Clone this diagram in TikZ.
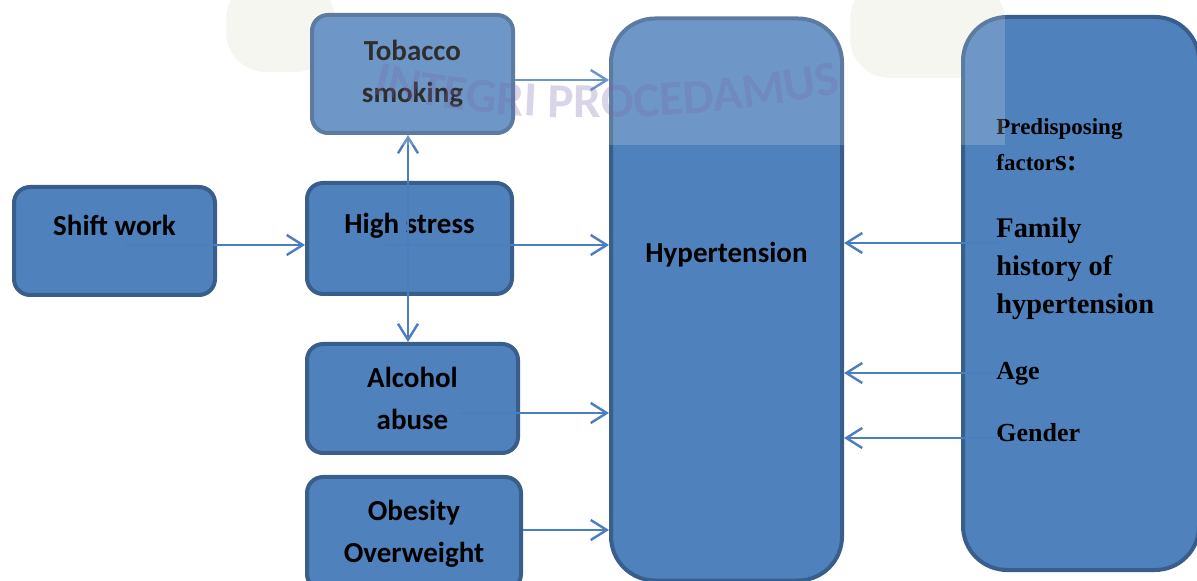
\documentclass[tikz,border=0pt]{standalone}
\usepackage{fontspec}
\usepackage{tikz}
\usetikzlibrary{arrows.meta,decorations.text}
\setmainfont{Liberation Serif}
\newfontfamily\calfont{Carlito}
\definecolor{boxfill}{RGB}{79,129,189}
\definecolor{boxedge}{RGB}{58,94,140}
\definecolor{linkc}{RGB}{74,126,190}
\definecolor{wmark}{RGB}{120,105,170}
\definecolor{wband}{RGB}{222,218,198}

\begin{document}
\begin{tikzpicture}[x=0.5pt,y=-0.5pt,
   box/.style={draw=boxedge,fill=boxfill,line width=2pt,rounded corners=8pt,inner sep=0pt,
     align=center,font=\calfont\bfseries\fontsize{14.5}{21}\selectfont},
   bigbox/.style={box,rounded corners=22pt},
   link/.style={draw=linkc,line width=1.2pt,-{Straight Barb[length=8pt,width=10pt,line width=1.2pt]}},
   fact/.style={anchor=north west,inner sep=0pt,align=left,font=\bfseries}]
   \useasboundingbox (0,0) rectangle (1197,581);

   % faint logo behind
   \fill[wband, opacity=.3, rounded corners=20pt] (226,-20) rectangle (335,72);
   \fill[wband, opacity=.3, rounded corners=20pt] (850,-20) rectangle (1005,78);

   % boxes
   \node[box, minimum width=100.5pt, minimum height=54pt, text height=11pt, text depth=16.5pt]
     (shift) at (114.5,241) {Shift work};
   \node[box, minimum width=102.5pt, minimum height=55.5pt, text height=11pt, text depth=16pt]
     (stress) at (409.5,238.5) {High stress};
   \node[box, minimum width=100.5pt, minimum height=59pt] (tobacco) at (412.5,74) {Tobacco\\smoking};
   \node[box, minimum width=105.5pt, minimum height=54.5pt] (alcohol) at (412.5,398.5) {Alcohol\\abuse};
   \node[box, minimum width=107pt, minimum height=56.5pt] (obesity) at (414,533.5) {Obesity\\Overweight};
   \node[bigbox, minimum width=115.5pt, minimum height=281pt, text height=11pt, text depth=47.5pt]
     (hyp) at (726.5,299.5) {Hypertension};
   \node[bigbox, minimum width=118pt, minimum height=276.5pt] (factors) at (1081,293.5) {};

   % predisposing factors
   \node[fact, font=\bfseries\fontsize{11.5}{18}\selectfont] (pred) at (996,118)
     {Predisposing\\factor{\fontsize{15}{18}\selectfont s:}};
   \node[fact, font=\bfseries\fontsize{14.2}{19}\selectfont] (fam) at (996,217)
     {Family\\history of\\hypertension};
   \node[fact, font=\bfseries\fontsize{13}{16}\selectfont] (age) at (996,362) {Age};
   \node[fact, font=\bfseries\fontsize{13}{16}\selectfont] (gender) at (996,423) {Gender};

   % arrow starts
   \coordinate (s1) at (125,245);
   \coordinate (s2) at (385,245);
   \coordinate (s3) at (515,80);
   \coordinate (s4) at (460,413);
   \coordinate (s5) at (523,530);
   \coordinate (v) at (408,240);
   \coordinate (f1) at (1000,243);
   \coordinate (f2) at (1000,373);
   \coordinate (f3) at (1000,438);

   \draw[link] (s1) -- (s1 -| stress.west);
   \draw[link] (s2) -- (s2 -| hyp.west);
   \draw[link] (s3) -- (s3 -| hyp.west);
   \draw[link] (s4) -- (s4 -| hyp.west);
   \draw[link] (s5) -- (s5 -| hyp.west);
   \draw[link] (v) -- (v |- tobacco.south);
   \draw[link] (v) -- (v |- alcohol.north);
   \draw[link] (f1) -- (f1 -| hyp.east);
   \draw[link] (f2) -- (f2 -| hyp.east);
   \draw[link] (f3) -- (f3 -| hyp.east);

   % watermark
   \fill[white, opacity=.18] (225,0) rectangle (1005,145);
   \begin{scope}[opacity=.28]
     \path[decorate, decoration={text along path, text align=center,
       text={|\calfont\bfseries\fontsize{24.5}{24.5}\selectfont\color{wmark}|INTEGRI PROCEDAMUS}}]
       (362,90) .. controls (480,128) and (700,126) .. (852,90);
   \end{scope}
\end{tikzpicture}
\end{document}
